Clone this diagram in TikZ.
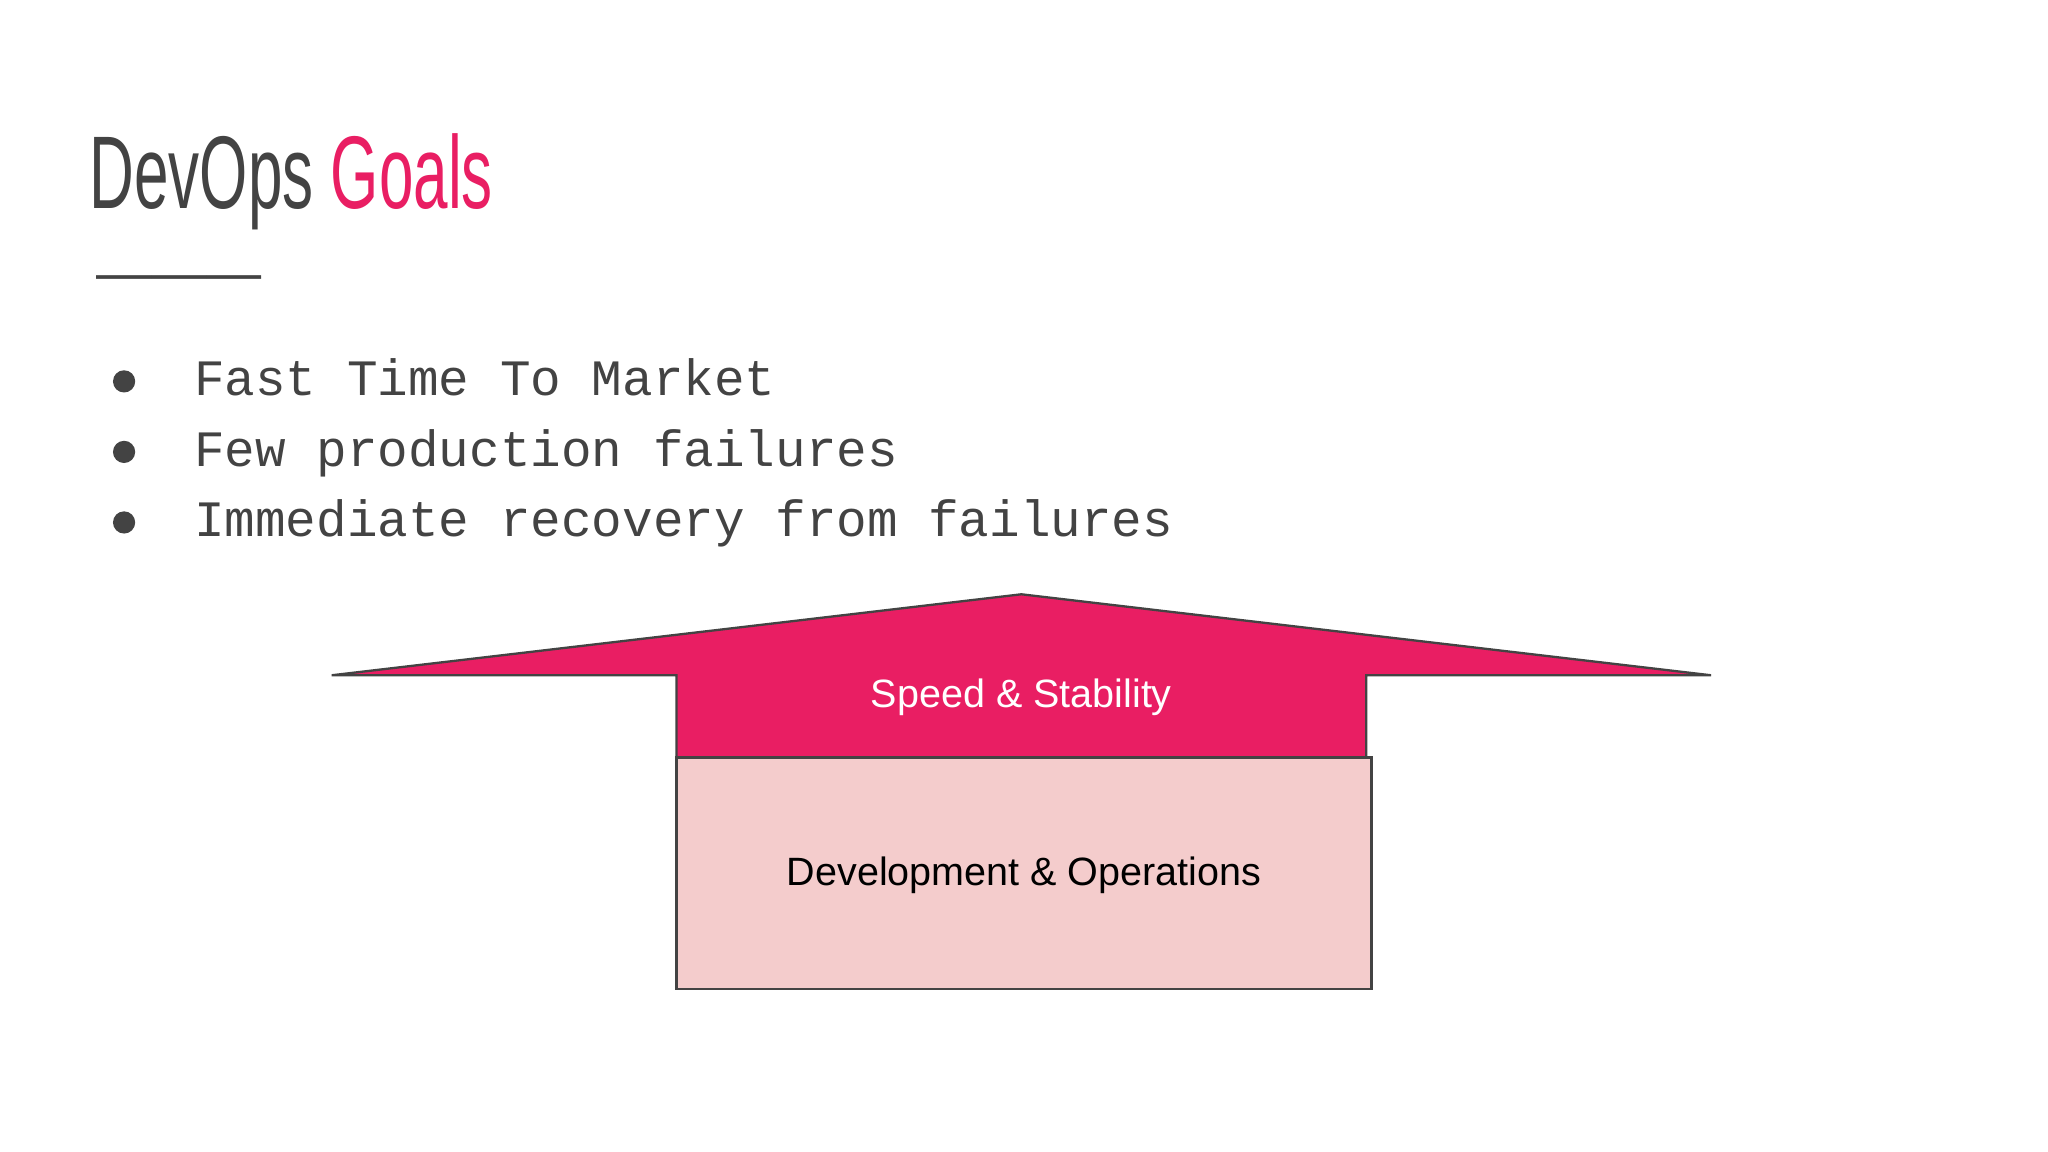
\documentclass[tikz,border=0pt]{standalone}
\usepackage{fontspec}
\setmainfont{Liberation Sans}
\setmonofont{Liberation Mono}
\definecolor{dark}{RGB}{67,67,67}
\definecolor{magenta}{RGB}{233,30,99}
\definecolor{pinkbox}{RGB}{244,204,204}
\begin{document}
\begin{tikzpicture}[x=0.01cm,y=-0.01cm,
  bul/.style={anchor=base west,font=\ttfamily\fontsize{11.1pt}{13pt}\selectfont,text=dark,inner sep=0},
  dot/.style={circle,fill=dark,inner sep=0,minimum size=0.17cm}]
\useasboundingbox (0,0) rectangle (1568,882);
\fill[white] (0,0) rectangle (1568,882);
\node[anchor=base west,inner sep=0] (title) at (68,160)
  {\scalebox{0.6}[1]{\fontsize{22.5pt}{26pt}\selectfont\color{dark}DevOps \color{magenta}Goals}};
\node[anchor=west,inner sep=0,text=dark] (dash) at (73,217)
  {\scalebox{1}[1]{\fontsize{12pt}{14pt}\selectfont ——— }};
\node[dot] (d1) at (95,292) {};
\node[dot] (d2) at (95,346) {};
\node[dot] (d3) at (95,400) {};
\node[bul] (b1) at (148,303) {Fast Time To Market};
\node[bul] (b2) at (148,357) {Few production failures};
\node[bul] (b3) at (148,411) {Immediate recovery from failures};
\draw[fill=magenta,draw=dark,line width=0.5pt] (254,517) -- (782,455) -- (1310,517) -- (1046,517) -- (1046,580) -- (518,580) -- (518,517) -- cycle;
\draw[fill=pinkbox,draw=dark,line width=0.5pt] (518,580) rectangle (1050,757);
\node[text=white,font=\fontsize{8.6pt}{10pt}\selectfont] (s) at (782,534) {Speed \& Stability};
\node[text=black,font=\fontsize{8.6pt}{10pt}\selectfont] (d) at (784,670) {Development \& Operations};
\end{tikzpicture}
\end{document}
